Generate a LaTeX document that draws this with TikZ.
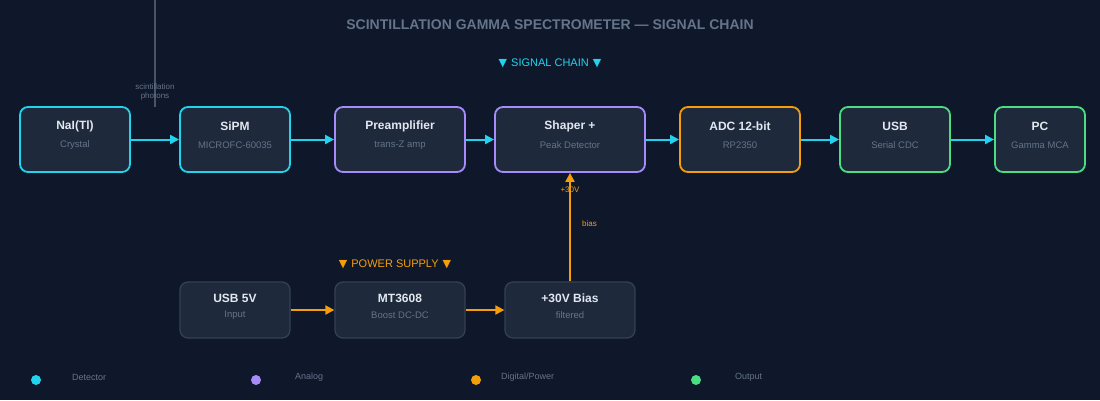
\documentclass[tikz,border=0pt]{standalone}
\usepackage{fontspec}
\setmainfont{Liberation Sans}
\newfontfamily\symfont{DejaVu Sans}
\usetikzlibrary{arrows.meta}
\definecolor{bg}{HTML}{0F172A}
\definecolor{boxfill}{HTML}{1E293B}
\definecolor{ccyan}{HTML}{22D3EE}
\definecolor{cpurple}{HTML}{A78BFA}
\definecolor{corange}{HTML}{F59E0B}
\definecolor{cgreen}{HTML}{4ADE80}
\definecolor{ctitle}{HTML}{E2E8F0}
\definecolor{csub}{HTML}{64748B}
\definecolor{cpow}{HTML}{334155}
\definecolor{cline}{HTML}{475569}
\tikzset{
  blk/.style={draw, fill=boxfill, rounded corners=8pt, line width=1.8pt, minimum height=65pt, inner sep=0pt},
  pblk/.style={draw=cpow, fill=boxfill, rounded corners=8pt, line width=1.3pt, minimum height=56pt, minimum width=130pt, inner sep=0pt},
  ttl/.style={text=ctitle, font=\fontsize{12}{14}\selectfont\bfseries, inner sep=0pt},
  sub/.style={text=csub, font=\fontsize{9.5}{11}\selectfont, inner sep=0pt},
  sarrow/.style={draw=ccyan, line width=2pt, -{Triangle[length=9pt,width=9pt]}},
  parrow/.style={draw=corange, line width=2pt, -{Triangle[length=9pt,width=9pt]}},
  legtxt/.style={text=csub, font=\fontsize{9}{11}\selectfont, anchor=west, inner sep=0pt},
  dot/.style={circle, inner sep=0pt, minimum size=10pt},
}
\begin{document}
\begin{tikzpicture}[x=1pt,y=-1pt]
\fill[bg] (0,0) rectangle (1100,400);
\useasboundingbox (0,0) rectangle (1100,400);

\node[text=csub, font=\fontsize{14}{16}\selectfont\bfseries] (title) at (550,24.5) {SCINTILLATION GAMMA SPECTROMETER — SIGNAL CHAIN};
\node[text=ccyan, font=\fontsize{11}{13}\selectfont] (sighead) at (550,63.5) {{\symfont ▼}\hspace{4pt}SIGNAL CHAIN\hspace{4pt}{\symfont ▼}};

% signal chain boxes
\node[blk, draw=ccyan, minimum width=110pt] (nai) at (75,139.5) {};
\node[blk, draw=ccyan, minimum width=110pt] (sipm) at (235,139.5) {};
\node[blk, draw=cpurple, minimum width=130pt] (pre) at (400,139.5) {};
\node[blk, draw=cpurple, minimum width=150pt] (shp) at (570,139.5) {};
\node[blk, draw=corange, minimum width=120pt] (adc) at (740,139.5) {};
\node[blk, draw=cgreen, minimum width=110pt] (usb) at (895,139.5) {};
\node[blk, draw=cgreen, minimum width=90pt] (pc) at (1040,139.5) {};

\foreach \n/\t/\s in {nai/NaI(Tl)/Crystal, sipm/SiPM/MICROFC-60035, pre/Preamplifier/trans-Z amp, shp/Shaper +/Peak Detector, adc/ADC 12-bit/RP2350, usb/USB/Serial CDC, pc/PC/Gamma MCA}{
  \node[ttl] (\n-t) at ([yshift=13pt]\n.center) {\t};
  \node[sub] (\n-s) at ([yshift=-5.5pt]\n.center) {\s};
}

\draw[sarrow] (nai) -- (sipm);
\draw[sarrow] (sipm) -- (pre);
\draw[sarrow] (pre) -- (shp);
\draw[sarrow] (shp) -- (adc);
\draw[sarrow] (adc) -- (usb);
\draw[sarrow] (usb) -- (pc);

% photon line
\coordinate (ph0) at (155,0);
\coordinate (ph1) at (155,107);
\draw[cline, line width=1.3pt] (ph0) -- (ph1);
\node[text=csub, font=\fontsize{8}{9.5}\selectfont, align=center, inner sep=0pt] (phl) at (155,92) {scintillation\\photons};

% power supply
\node[text=corange, font=\fontsize{11}{13}\selectfont] (powhead) at (395,264.5) {{\symfont ▼}\hspace{4pt}POWER SUPPLY\hspace{4pt}{\symfont ▼}};
\node[pblk, minimum width=110pt] (u5) at (235,310) {};
\node[pblk] (mt) at (400,310) {};
\node[pblk] (bias) at (570,310) {};
\foreach \n/\t/\s in {u5/USB 5V/Input, mt/MT3608/Boost DC-DC, bias/+30V Bias/filtered}{
  \node[ttl] (\n-t) at ([yshift=11.5pt]\n.center) {\t};
  \node[sub] (\n-s) at ([yshift=-5pt]\n.center) {\s};
}
\draw[parrow] (u5) -- (mt);
\draw[parrow] (mt) -- (bias);
\draw[parrow] (bias.north) -- (shp.south);
\node[text=corange, font=\fontsize{8}{9.5}\selectfont, inner sep=0pt] (v30) at (570,190) {+30V};
\node[text=corange, font=\fontsize{8}{9.5}\selectfont, inner sep=0pt, anchor=west] (biasl) at (582,224) {bias};

% legend
\node[dot, fill=ccyan] (d1) at (36,380) {};
\node[legtxt] (l1) at (72,377) {Detector};
\node[dot, fill=cpurple] (d2) at (256,380) {};
\node[legtxt] (l2) at (295,377) {Analog};
\node[dot, fill=corange] (d3) at (476,380) {};
\node[legtxt] (l3) at (501,377) {Digital/Power};
\node[dot, fill=cgreen] (d4) at (696,380) {};
\node[legtxt] (l4) at (735,377) {Output};
\end{tikzpicture}
\end{document}
